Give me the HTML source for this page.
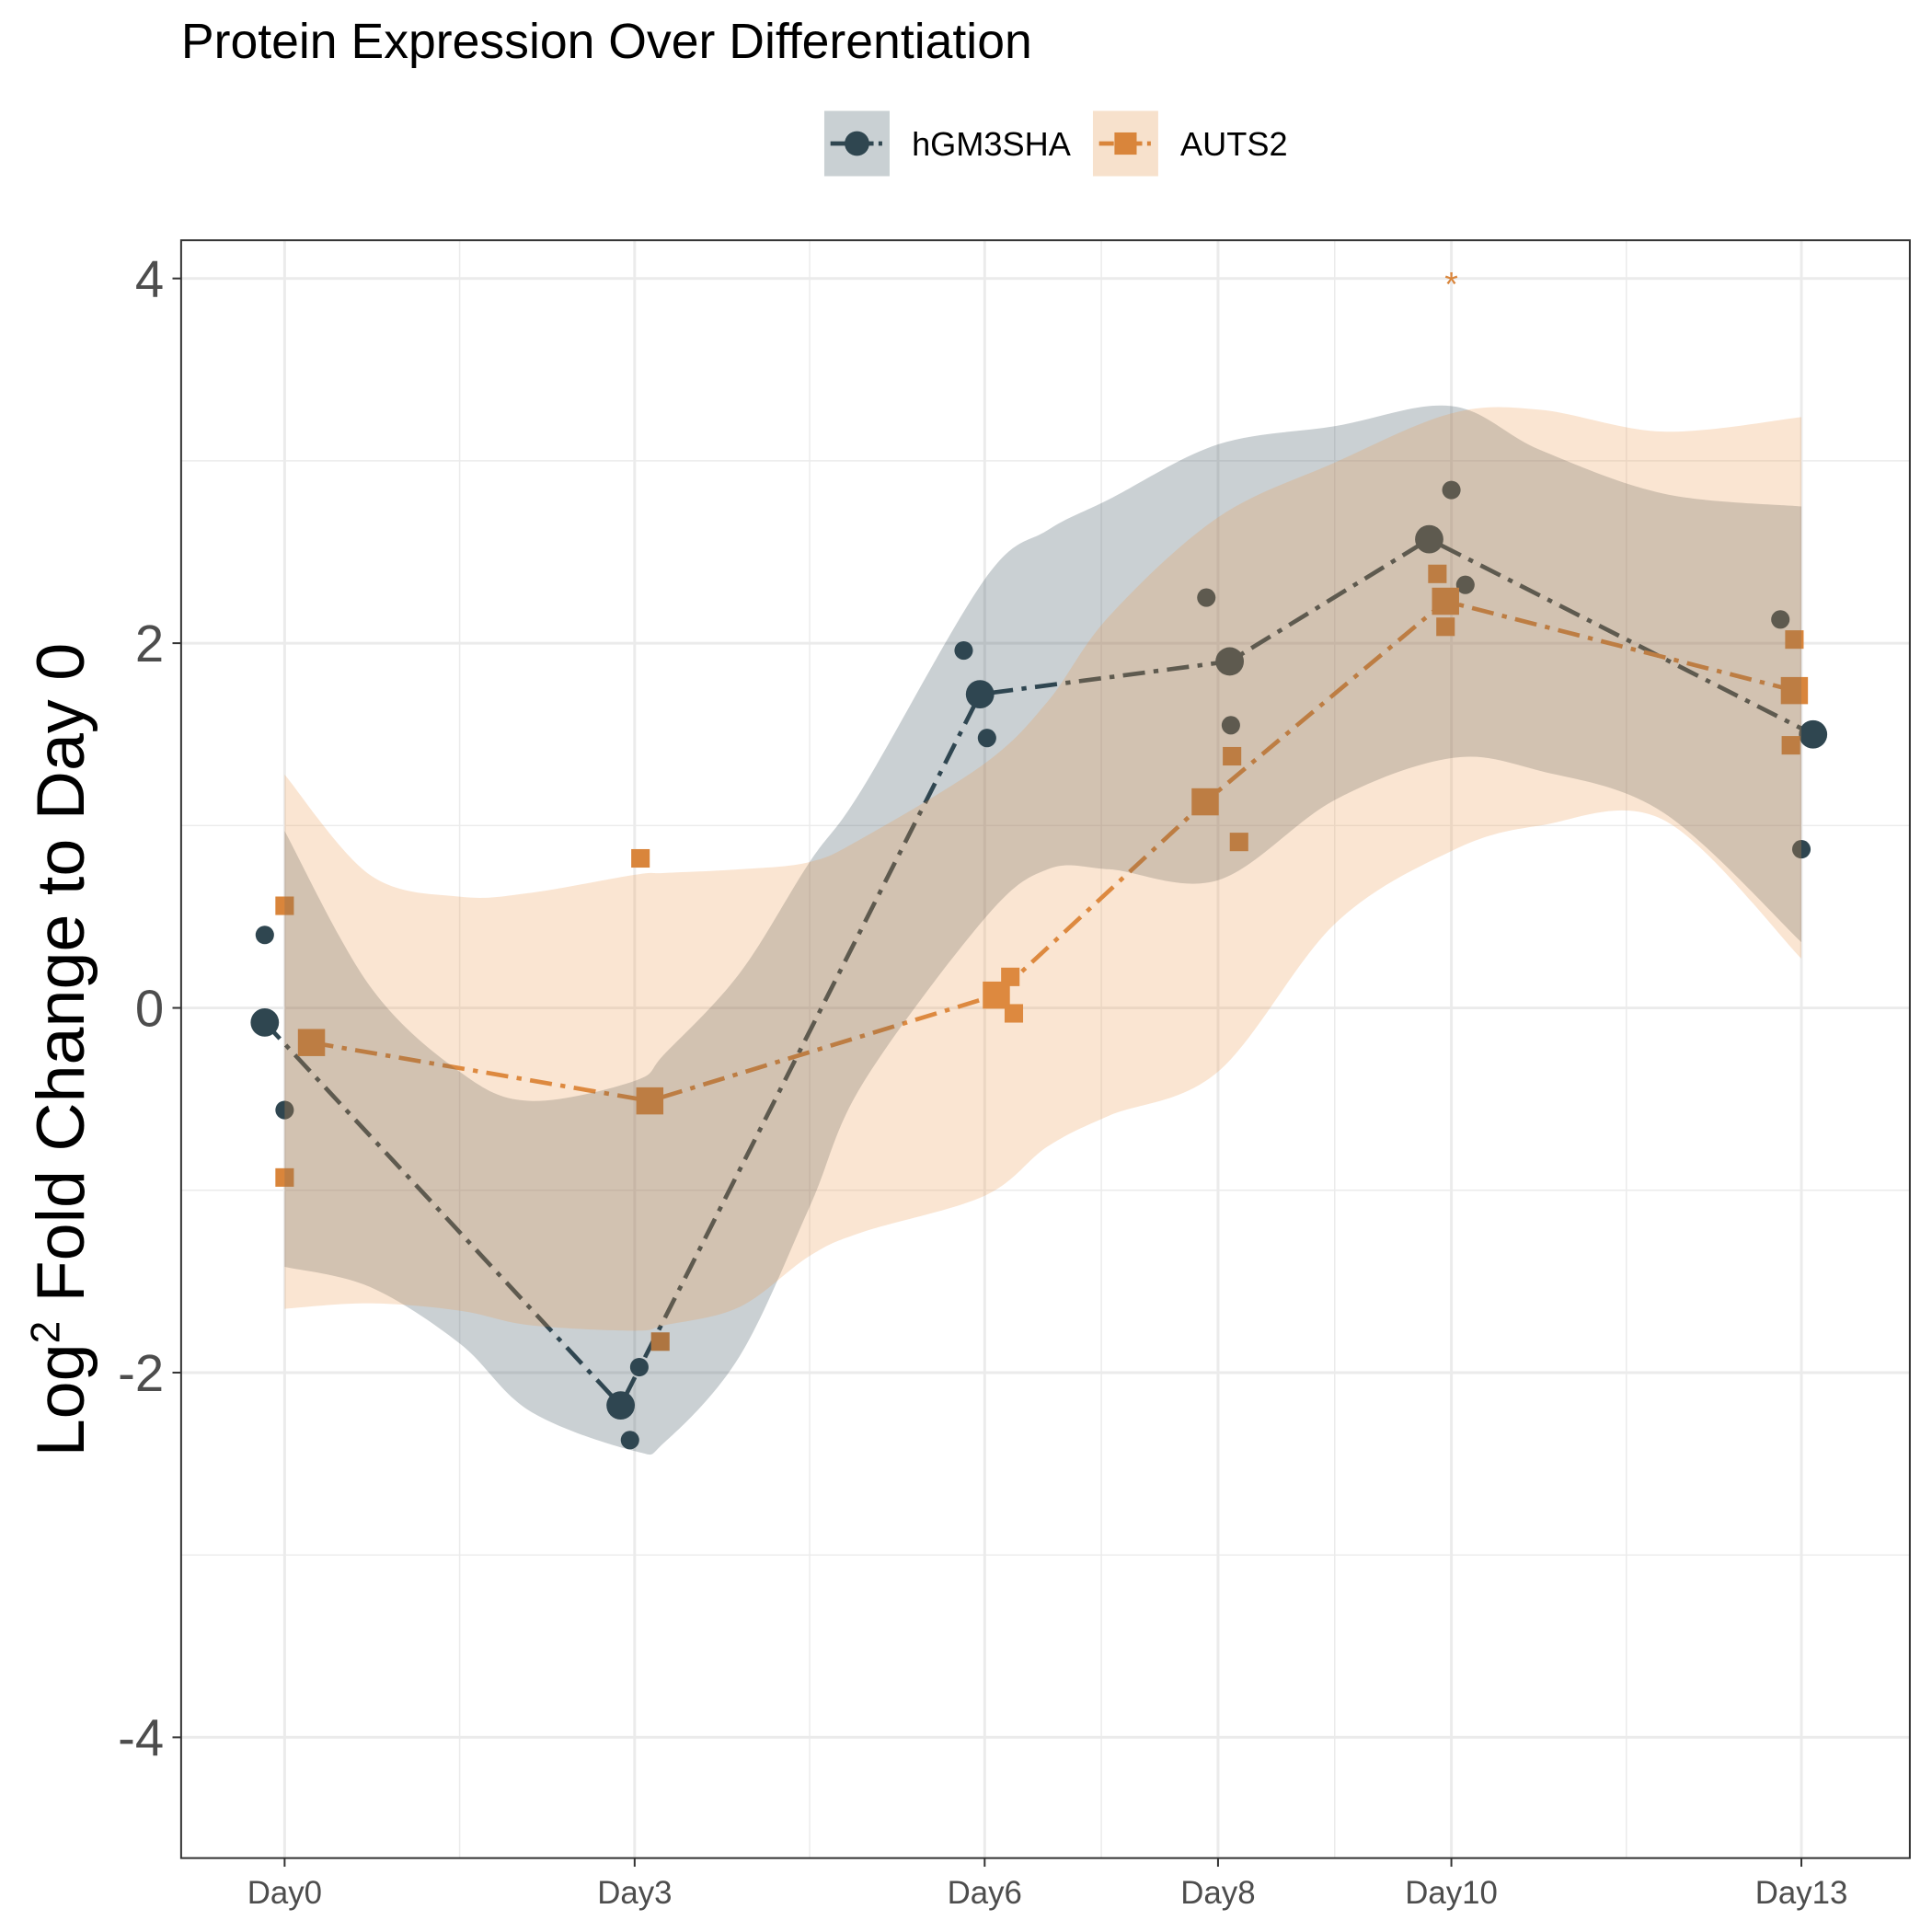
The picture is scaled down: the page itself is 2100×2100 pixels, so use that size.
<!DOCTYPE html>
<html><head><meta charset="utf-8"><style>
html,body{margin:0;padding:0;background:#fff}
svg{display:block;font-family:"Liberation Sans",Arial,sans-serif}
</style></head><body>
<svg id="chart" width="2100" height="2100" viewBox="0 0 1568 1568" xmlns="http://www.w3.org/2000/svg">
<rect width="1568" height="1568" fill="#fff"/>
<text x="147" y="47" font-size="40" fill="#000">Protein Expression Over Differentiation</text>
<g>
 <g>
  <rect x="669" y="90" width="53" height="53" fill="#c9d0d3"/>
  <line x1="674" y1="116.5" x2="717" y2="116.5" stroke="#2f4650" stroke-width="3.5" stroke-dasharray="12,4,3,4"/>
  <circle cx="695.5" cy="116.5" r="10" fill="#2f4650"/>
  <text x="740" y="126" font-size="27" fill="#000">hGM3SHA</text>
 </g>
 <g>
  <rect x="887" y="90" width="53" height="53" fill="#f7e1cc"/>
  <line x1="892" y1="116.5" x2="935" y2="116.5" stroke="#d9853b" stroke-width="3.5" stroke-dasharray="12,4,3,4"/>
  <rect x="904.5" y="107.5" width="18" height="18" fill="#d9853b"/>
  <text x="958" y="126" font-size="27" fill="#000">AUTS2</text>
 </g>
</g>
<g id="grid"></g>
<g id="plot"></g>
<rect x="147" y="195" width="1403" height="1313" fill="none" stroke="#333" stroke-width="1.5"/>
<g id="axes"></g>
<text transform="translate(68,852) rotate(-90)" text-anchor="middle" font-size="55" fill="#000">Log<tspan font-size="33" dy="-20">2</tspan><tspan dy="20"> Fold Change to Day 0</tspan></text>
</svg>
<script>
const dayLabels = ["Day0","Day3","Day6","Day8","Day10","Day13"];
const days = [0,3,6,8,10,13];
const yTicks = [-4,-2,0,2,4];
const gMean = [-0.08,-2.18,1.72,1.90,2.57,1.50];
const gMeanDodge = [-0.17,-0.12,-0.04,0.10,-0.19,0.10];
const gRepA = [0.40,-2.37,1.96,2.25,2.84,2.13];
const gRepADodge = [-0.17,-0.04,-0.18,-0.1,0,-0.18];
const gRepB = [-0.56,-1.97,1.48,1.55,2.32,0.87];
const gRepBDodge = [0,0.04,0.02,0.11,0.12,0];
const aMean = [-0.19,-0.51,0.07,1.13,2.23,1.74];
const aMeanDodge = [0.23,0.13,0.1,-0.11,-0.05,-0.06];
const aRepA = [0.56,0.82,0.17,1.38,2.38,2.02];
const aRepADodge = [0,0.05,0.22,0.12,-0.12,-0.06];
const aRepB = [-0.93,-1.83,-0.03,0.91,2.09,1.44];
const aRepBDodge = [0,0.22,0.25,0.18,-0.05,-0.09];
const ribbonDays = [0,0.73,1.5,2.1,3,3.26,3.9,4.5,4.95,6,6.54,7.07,8,9,10,10.76,11.82,13];
const gUpper = [0.97,0.12,-0.35,-0.51,-0.40,-0.25,0.19,0.80,1.20,2.35,2.62,2.79,3.09,3.19,3.30,3.06,2.82,2.75];
const gLower = [-1.42,-1.53,-1.84,-2.21,-2.43,-2.38,-1.91,-1.09,-0.42,0.49,0.76,0.76,0.70,1.14,1.37,1.30,1.07,0.36];
const aUpper = [1.28,0.73,0.61,0.63,0.73,0.74,0.76,0.80,0.93,1.34,1.68,2.15,2.69,2.99,3.26,3.28,3.16,3.24];
const aLower = [-1.65,-1.62,-1.66,-1.74,-1.77,-1.74,-1.64,-1.36,-1.23,-1.03,-0.76,-0.59,-0.35,0.46,0.86,1.00,1.03,0.27];
const sigDay = 10, sigValue = 4.0;

const NS="http://www.w3.org/2000/svg";
const X = d => 231 + d*(1462-231)/13;
const Y = v => 818 - v*148;
function mk(parent, tag, attrs){const e=document.createElementNS(NS,tag);for(const k in attrs)e.setAttribute(k,attrs[k]);parent.appendChild(e);return e;}
const grid=document.getElementById('grid'), plot=document.getElementById('plot'), axes=document.getElementById('axes');

for(let v=-5; v<=5; v++){ if(Y(v)<195||Y(v)>1508) continue;
  const major = yTicks.includes(v);
  const l=mk(grid,'line',{x1:147,x2:1550,y1:Y(v),y2:Y(v),stroke:'#ebebeb','stroke-width':major?2.2:1.1});
  
  
}
for(let i=0;i<days.length;i++){
  const l=mk(grid,'line',{x1:X(days[i]),x2:X(days[i]),y1:195,y2:1508,stroke:'#ebebeb','stroke-width':2.2});
  
  
  if(i<days.length-1){
    const m=(days[i]+days[i+1])/2;
    const l2=mk(grid,'line',{x1:X(m),x2:X(m),y1:195,y2:1508,stroke:'#ebebeb','stroke-width':1.1});
    
    
  }
}
yTicks.forEach(v=>{
  const t=mk(axes,'line',{x1:140,x2:147,y1:Y(v),y2:Y(v),stroke:'#333','stroke-width':1.5});
  
  
  const tx=mk(axes,'text',{x:133,y:Y(v)+15,'text-anchor':'end','font-size':42,fill:'#4d4d4d'});
  tx.textContent=String(v);
  
  
});
days.forEach((d,i)=>{
  const t=mk(axes,'line',{x1:X(d),x2:X(d),y1:1508,y2:1515,stroke:'#333','stroke-width':1.5});
  
  
  const tx=mk(axes,'text',{x:X(d),y:1545,'text-anchor':'middle','font-size':26,fill:'#4d4d4d'});
  tx.textContent=dayLabels[i];
  
  
});

function smoothPath(pts){
  let d=`M${pts[0][0]},${pts[0][1]}`;
  for(let i=0;i<pts.length-1;i++){
    const p0=pts[Math.max(0,i-1)],p1=pts[i],p2=pts[i+1],p3=pts[Math.min(pts.length-1,i+2)];
    const c1=[p1[0]+(p2[0]-p0[0])/6,p1[1]+(p2[1]-p0[1])/6];
    const c2=[p2[0]-(p3[0]-p1[0])/6,p2[1]-(p3[1]-p1[1])/6];
    d+=` C${c1[0]},${c1[1]} ${c2[0]},${c2[1]} ${p2[0]},${p2[1]}`;
  }
  return d;
}
function ribbon(up,lo,fill,name){
  const top=ribbonDays.map((d,i)=>[X(d),Y(up[i])]);
  const bot=ribbonDays.map((d,i)=>[X(d),Y(lo[i])]).reverse();
  let d=smoothPath(top)+' L'+smoothPath(bot).slice(1)+' Z';
  const p=mk(plot,'path',{d:d,fill:fill,stroke:'none'});
  
  
}
function line(vals,dodge,color,name){
  const pts=days.map((d,i)=>X(d+dodge[i])+','+Y(vals[i])).join(' ');
  const l=mk(plot,'polyline',{points:pts,fill:'none',stroke:color,'stroke-width':3.5,'stroke-dasharray':'18,7,4,7'});
  
  
}
function circles(vals,dodge,r,color,name){
  days.forEach((d,i)=>{
    const c=mk(plot,'circle',{cx:X(d+dodge[i]),cy:Y(vals[i]),r:r,fill:color});
    
    
  });
}
function squares(vals,dodge,s,color,name){
  days.forEach((d,i)=>{
    const c=mk(plot,'rect',{x:X(d+dodge[i])-s/2,y:Y(vals[i])-s/2,width:s,height:s,fill:color});
    
    
  });
}
const G='#2f4650', A='#d9853b';
line(gMean,gMeanDodge,G,'hgm3sha-line');
line(aMean,aMeanDodge,A,'auts2-line');
circles(gRepA,gRepADodge,7.5,G,'hgm3sha-replicate-point');
circles(gRepB,gRepBDodge,7.5,G,'hgm3sha-replicate-point');
circles(gMean,gMeanDodge,11.5,G,'hgm3sha-mean-point');
squares(aRepA,aRepADodge,15,A,'auts2-replicate-point');
squares(aRepB,aRepBDodge,15,A,'auts2-replicate-point');
squares(aMean,aMeanDodge,22,A,'auts2-mean-point');
ribbon(gUpper,gLower,'rgba(52,74,86,0.26)','hgm3sha-ribbon');
ribbon(aUpper,aLower,'rgba(235,150,75,0.25)','auts2-ribbon');
const s=mk(plot,'text',{x:X(sigDay),y:Y(sigValue)+14,'text-anchor':'middle','font-size':28,fill:A});
s.textContent='*';


</script>
</body></html>
